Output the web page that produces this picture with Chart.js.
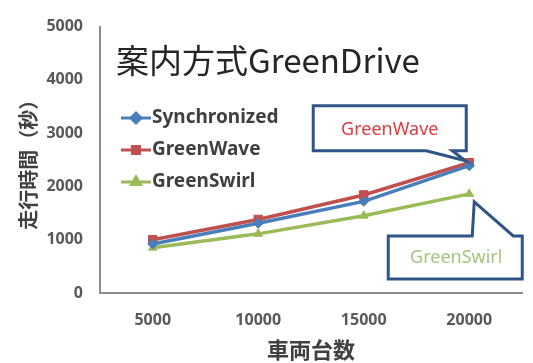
<!DOCTYPE html>
<html>
<head>
<meta charset="utf-8">
<script src="https://cdn.jsdelivr.net/npm/chart.js@4/dist/chart.umd.min.js"></script>
<style>
  html, body { margin: 0; padding: 0; background: #fff; }
  #wrap { width: 533px; height: 363px; }
</style>
</head>
<body>
<div id="wrap"><canvas id="myChart" width="533" height="363"></canvas></div>
<script>
// chart data
const categories = ['5000', '10000', '15000', '20000'];
const seriesNames = ['Synchronized', 'GreenWave', 'GreenSwirl'];
const synchronized = [920, 1310, 1720, 2390];
const greenWave = [1000, 1380, 1840, 2445];
const greenSwirl = [850, 1110, 1450, 1860];
const yTicks = [0, 1000, 2000, 3000, 4000, 5000];

const chartTitle = '案内方式GreenDrive';
const xTitle = '車両台数';
const yTitle = '走行時間（秒）';

const colors = ['#4a7ebb', '#c0504d', '#9bbb59'];
const markers = ['rectRot', 'rect', 'triangle'];

const tickFont = { family: "'Noto Sans', sans-serif", size: 16, weight: 'bold' };
const cjkFont = "'Noto Sans CJK JP', sans-serif";

// title, legend and callouts drawn on top of the plot
const overlay = {
    id: 'overlay',
    afterDraw(chart) {
        const ctx = chart.ctx;
        const area = chart.chartArea;
        ctx.save();

        // big title inside the plot
        ctx.fillStyle = '#262626';
        ctx.font = "33px " + cjkFont;
        ctx.textBaseline = 'middle';
        ctx.textAlign = 'left';
        ctx.fillText(chartTitle, area.left + 16, 60);

        // legend
        chart.data.datasets.forEach(function(ds, i) {
            const y = 118 + i * 32;
            const x0 = area.left + 21;
            ctx.strokeStyle = ds.borderColor;
            ctx.lineWidth = 3;
            ctx.beginPath();
            ctx.moveTo(x0, y);
            ctx.lineTo(x0 + 30, y);
            ctx.stroke();
            ctx.fillStyle = ds.backgroundColor;
            Chart.helpers.drawPoint(ctx, { pointStyle: ds.pointStyle, radius: 5, borderWidth: 1 }, x0 + 15, y);
            ctx.fillStyle = '#404040';
            ctx.font = "bold 19px 'Noto Sans', sans-serif";
            ctx.textAlign = 'left';
            ctx.fillText(ds.label, x0 + 31, y);
        });

        // callouts pointing at the last points
        const wave = chart.getDatasetMeta(1).data[3];
        const swirl = chart.getDatasetMeta(2).data[3];
        ctx.strokeStyle = '#2f5586';
        ctx.lineWidth = 3;
        ctx.lineJoin = 'miter';

        // GreenWave box above the point
        let bx = wave.x - 156, by = wave.y - 57, bw = 153, bh = 45;
        ctx.fillStyle = '#ffffff';
        ctx.beginPath();
        ctx.moveTo(bx, by);
        ctx.lineTo(bx + bw, by);
        ctx.lineTo(bx + bw, by + bh);
        ctx.lineTo(bx + bw - 14, by + bh);
        ctx.lineTo(wave.x - 4, wave.y - 2);
        ctx.lineTo(bx + bw - 40, by + bh);
        ctx.lineTo(bx, by + bh);
        ctx.closePath();
        ctx.fill();
        ctx.stroke();
        ctx.fillStyle = '#e2393e';
        ctx.font = "18px 'Noto Sans', sans-serif";
        ctx.textAlign = 'center';
        ctx.fillText('GreenWave', bx + bw / 2, by + 24);

        // GreenSwirl box below the point
        bx = swirl.x - 81; by = swirl.y + 42; bw = 134; bh = 43;
        ctx.fillStyle = '#ffffff';
        ctx.beginPath();
        ctx.moveTo(bx, by);
        ctx.lineTo(swirl.x + 3, by);
        ctx.lineTo(swirl.x + 5, swirl.y + 8);
        ctx.lineTo(swirl.x + 44, by);
        ctx.lineTo(bx + bw, by);
        ctx.lineTo(bx + bw, by + bh);
        ctx.lineTo(bx, by + bh);
        ctx.closePath();
        ctx.fill();
        ctx.stroke();
        ctx.fillStyle = '#a3c77a';
        ctx.fillText('GreenSwirl', bx + bw / 2 + 1, by + 22);

        ctx.restore();
    }
};

const values = [synchronized, greenWave, greenSwirl];
const datasets = seriesNames.map(function(name, i) {
    return {
        label: name,
        data: values[i],
        borderColor: colors[i],
        backgroundColor: colors[i],
        borderWidth: 3.5,
        pointStyle: markers[i],
        pointRadius: i === 1 ? 6 : 5,
        pointBorderWidth: 1,
        tension: 0
    };
});

const ctx = document.getElementById('myChart').getContext('2d');
const myChart = new Chart(ctx, {
    type: 'line',
    data: { labels: categories, datasets: datasets },
    options: {
        responsive: false,
        animation: false,
        layout: { padding: { top: 21, right: 11, left: 0, bottom: 0 } },
        plugins: { legend: { display: false }, tooltip: { enabled: false } },
        scales: {
            x: {
                offset: true,
                grid: { display: false, drawTicks: false },
                border: { display: true, color: '#8c8c8c', width: 2 },
                ticks: { color: '#595959', font: tickFont, padding: 18, maxRotation: 0 },
                title: {
                    display: true, text: xTitle, color: '#404040',
                    font: { family: cjkFont, size: 22, weight: 'bold' },
                    padding: { top: 3, bottom: 0 }
                },
                afterFit: function(scale) { scale.height = 70; }
            },
            y: {
                min: 0, max: 5000,
                grid: { display: false, drawTicks: false },
                border: { display: true, color: '#8c8c8c', width: 2 },
                afterBuildTicks: function(scale) {
                    scale.ticks = yTicks.map(function(v) { return { value: v }; });
                },
                ticks: {
                    color: '#595959', font: tickFont, padding: 17,
                    callback: function(v) { return String(v); }
                },
                title: {
                    display: true, text: yTitle, color: '#404040',
                    font: { family: cjkFont, size: 20, weight: 'bold' },
                    padding: { top: 16, bottom: 0 }
                },
                afterFit: function(scale) { scale.width = 100; }
            }
        }
    },
    plugins: [overlay]
});
</script>
</body>
</html>
